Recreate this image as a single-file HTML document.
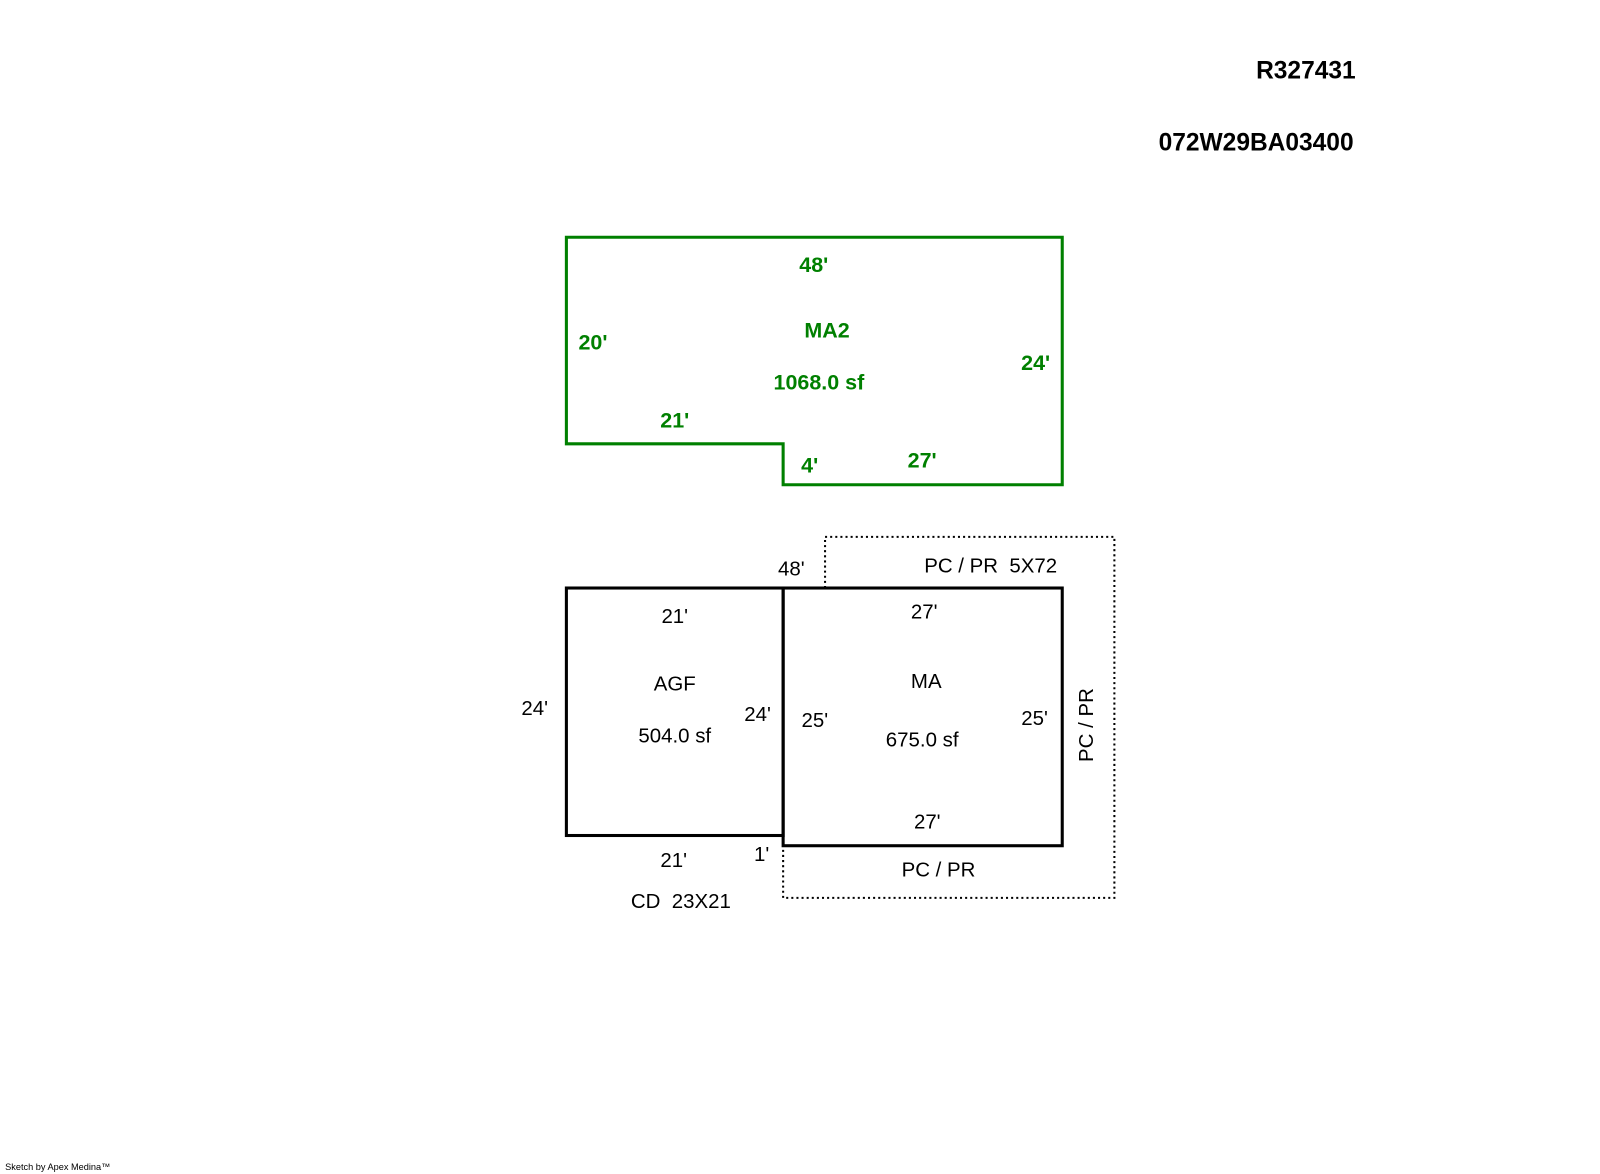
<!DOCTYPE html>
<html><head><meta charset="utf-8"><style>
html,body{margin:0;padding:0;background:#fff;}
svg{display:block;}
</style></head><body>
<svg width="1600" height="1174" viewBox="0 0 1565 1148" preserveAspectRatio="none" xmlns="http://www.w3.org/2000/svg" font-family="Liberation Sans, Arial, sans-serif">
<text x="1326" y="77" font-size="24" font-weight="bold" text-anchor="end">R327431</text>
<text x="1324" y="147" font-size="24" font-weight="bold" text-anchor="end">072W29BA03400</text>

<polygon points="554,232 1039,232 1039,474 766,474 766,434 554,434" fill="none" stroke="#008000" stroke-width="3"/>
<g fill="#008000" font-size="21" font-weight="bold" text-anchor="middle">
<text x="796" y="266">48'</text>
<text x="809" y="330">MA2</text>
<text x="580" y="342">20'</text>
<text x="1013" y="362">24'</text>
<text x="801" y="381">1068.0 sf</text>
<text x="660" y="418">21'</text>
<text x="792" y="462">4'</text>
<text x="902" y="457">27'</text>
</g>

<polyline points="807,575 807,525 1090,525 1090,878 766,878 766,827" fill="none" stroke="#000" stroke-width="2" stroke-dasharray="2,3"/>
<rect x="554" y="575" width="212" height="242" fill="none" stroke="#000" stroke-width="3"/>
<rect x="766" y="575" width="273" height="252" fill="none" stroke="#000" stroke-width="3"/>

<g fill="#000" font-size="20" text-anchor="middle">
<text x="774" y="563">48'</text>
<text x="969" y="560">PC / PR&#160;&#160;5X72</text>
<text x="660" y="609">21'</text>
<text x="904" y="605">27'</text>
<text x="660" y="675">AGF</text>
<text x="906" y="673">MA</text>
<text x="523" y="699">24'</text>
<text x="741" y="705">24'</text>
<text x="797" y="711">25'</text>
<text x="1012" y="709">25'</text>
<text x="660" y="726">504.0 sf</text>
<text x="902" y="730">675.0 sf</text>
<text x="907" y="810">27'</text>
<text x="659" y="848">21'</text>
<text x="745" y="842">1'</text>
<text x="918" y="857">PC / PR</text>
<text x="666" y="888">CD&#160;&#160;23X21</text>
<text transform="translate(1069,709) rotate(-90)">PC / PR</text>
</g>
<text x="5" y="1144" font-size="9">Sketch by Apex Medina™</text>
</svg>
</body></html>
